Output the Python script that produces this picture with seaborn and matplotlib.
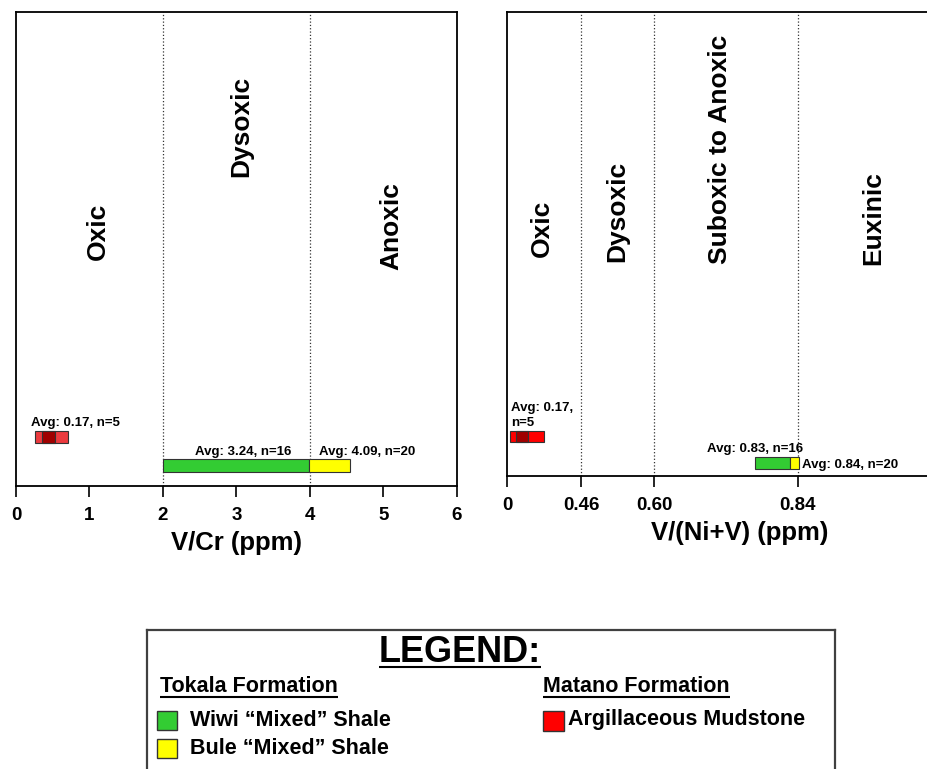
import numpy as np
import pandas as pd
import seaborn as sns
import matplotlib.pyplot as plt
from matplotlib.patches import Rectangle

# values
groups = ['Argillaceous Mudstone', 'Wiwi “Mixed” Shale', 'Bule “Mixed” Shale']
colors_vcr = ['#ec3a3e', '#33cc33', '#ffff00']
colors_vniv = ['#ff0000', '#33cc33', '#ffff00']

vcr_start = [0.26, 2.00, 3.98]
vcr_end = [0.71, 3.98, 4.55]
vcr_core = [0.35, 0.53]
vcr_text = ['Avg: 0.17, n=5', 'Avg: 3.24, n=16', 'Avg: 4.09, n=20']
vcr_bounds = [2, 4]
vcr_zones = ['Oxic', 'Dysoxic', 'Anoxic']
vcr_ticks = [0, 1, 2, 3, 4, 5, 6]

vniv_start = [0.02, 0.768, 0.826]
vniv_end = [0.23, 0.826, 0.841]
vniv_core = [0.056, 0.13]
vniv_text = ['Avg: 0.17,\nn=5', 'Avg: 0.83, n=16', 'Avg: 0.84, n=20']
vniv_bounds = [0.46, 0.60, 0.84]
vniv_zones = ['Oxic', 'Dysoxic', 'Suboxic to Anoxic', 'Euxinic']
vniv_ticks = [0, 0.46, 0.60, 0.84]
vniv_ticklabels = ['0', '0.46', '0.60', '0.84']

# the V/(Ni+V) axis is not linear in the source figure
knots_v = [0, 0.46, 0.60, 0.84, 1.0]
knots_px = [0, 74, 147, 291, 466]

df_vcr = pd.DataFrame({'group': groups, 'start': vcr_start, 'end': vcr_end,
                       'color': colors_vcr, 'label': vcr_text})
df_vniv = pd.DataFrame({'group': groups, 'start': vniv_start, 'end': vniv_end,
                        'color': colors_vniv, 'label': vniv_text})

sns.set_theme(style='white')
plt.rcParams['font.family'] = ['Liberation Sans', 'DejaVu Sans']
plt.rcParams['font.weight'] = 'bold'
plt.rcParams['axes.linewidth'] = 1.3
plt.rcParams['axes.edgecolor'] = 'black'
plt.rcParams['text.color'] = 'black'
plt.rcParams['axes.labelcolor'] = 'black'
plt.rcParams['xtick.color'] = 'black'
plt.rcParams['xtick.labelcolor'] = 'black'

W, H = 928, 769
fig = plt.figure(figsize=(W / 100, H / 100), dpi=100)


def px_axes(x0, y0, x1, y1):
    return fig.add_axes([x0 / W, 1 - y1 / H, (x1 - x0) / W, (y1 - y0) / H])


ax1 = px_axes(16, 12, 457, 486)
ax2 = px_axes(507, 12, 973, 476)
ax2.set_xscale('function', functions=(lambda x: np.interp(x, knots_v, knots_px),
                                      lambda p: np.interp(p, knots_px, knots_v)))

# bar rows (percent of panel height)
rows1 = [10.4, 4.32, 4.32]
rows2 = [8.5, 2.76, 2.76]
bh = 2.55


def draw_panel(ax, d, rows, core, core_col):
    for i, r in d.iterrows():
        ax.barh(rows[i], r['end'] - r['start'], left=r['start'], height=bh,
                color=r['color'], edgecolor='#333333', linewidth=0.8, zorder=3)
    ax.barh(rows[0], core[1] - core[0], left=core[0], height=bh,
            color=core_col, edgecolor='#333333', linewidth=0.8, zorder=4)


draw_panel(ax1, df_vcr, rows1, vcr_core, '#a00000')
draw_panel(ax2, df_vniv, rows2, vniv_core, '#a00000')

for ax, bounds in [(ax1, vcr_bounds), (ax2, vniv_bounds)]:
    for b in bounds:
        ax.axvline(b, color='#333333', ls=':', lw=0.9, zorder=2)
    ax.set_ylim(0, 100)
    ax.set_yticks([])
    ax.tick_params(axis='x', direction='out', length=8, width=1.2, color='black',
                   bottom=True, labelsize=13.5, pad=7)

ax1.set_xlim(0, 6)
ax1.set_xticks(vcr_ticks)
ax1.set_xticklabels([str(t) for t in vcr_ticks], fontweight='bold')
ax2.set_xlim(0, 1.0)
ax2.set_xticks(vniv_ticks)
ax2.set_xticklabels(vniv_ticklabels, fontweight='bold')
ax2.spines['right'].set_visible(False)

ax1.set_xlabel('V/Cr (ppm)', fontsize=18.5, fontweight='bold', labelpad=5)
ax2.set_xlabel('V/(Ni+V) (ppm)', fontsize=18.5, fontweight='bold', labelpad=5)

# zone names
zone_pos1 = [(1.116, 53.7), (3.07, 75.9), (5.10, 54.9)]
zone_pos2 = [(0.2176, 53.4), (0.529, 57.1), (0.71, 70.5), (0.9086, 55.6)]
for ax, names, pos in [(ax1, vcr_zones, zone_pos1), (ax2, vniv_zones, zone_pos2)]:
    for name, (x, y) in zip(names, pos):
        ax.text(x, y, name, rotation=90, ha='center', va='center',
                fontsize=19, fontweight='bold')

# average annotations
txt1 = [(0.21, 12.6), (2.435, 6.5), (4.127, 6.5)]
txt2 = [(0.023, 10.8), (0.689, 5.24), (0.8434, 1.66)]
for ax, d, pos in [(ax1, df_vcr, txt1), (ax2, df_vniv, txt2)]:
    for lab, (x, y) in zip(d['label'], pos):
        ax.text(x, y, lab, ha='left', va='baseline', fontsize=9.5, fontweight='bold',
                linespacing=1.3, zorder=5)

# legend box
axl = px_axes(147, 630, 835, 769)
axl.set_xlim(147, 835)
axl.set_ylim(769, 630)
axl.set_xticks([])
axl.set_yticks([])
for s in ['left', 'right', 'top']:
    axl.spines[s].set_color('#404040')
    axl.spines[s].set_linewidth(1.6)
axl.spines['bottom'].set_visible(False)

heads = [
    (460, 652, 'LEGEND:', 26, 'center', 667),
    (160, 687, 'Tokala Formation', 15.5, 'left', 697),
    (543, 687, 'Matano Formation', 15.5, 'left', 697),
]
head_texts = []
for x, y, s, fs, ha, uy in heads:
    t = axl.text(x, y, s, ha=ha, va='center', fontsize=fs, fontweight='bold')
    head_texts.append((t, uy))

entries = [
    (157, 711, 177, 730, colors_vniv[1], 190, 720, groups[1]),
    (157, 739, 177, 758, colors_vniv[2], 190, 748, groups[2]),
    (543, 711, 564, 731, colors_vniv[0], 568, 720, groups[0]),
]
for x0, y0, x1, y1, c, tx, ty, s in entries:
    axl.add_patch(Rectangle((x0, y0), x1 - x0, y1 - y0, facecolor=c,
                            edgecolor='#333333', linewidth=1.0))
    axl.text(tx, ty, s, ha='left', va='center', fontsize=15.5, fontweight='bold')

fig.canvas.draw()
rend = fig.canvas.get_renderer()
inv = axl.transData.inverted()
for t, uy in head_texts:
    bb = t.get_window_extent(rend)
    xa = inv.transform((bb.x0, bb.y0))[0]
    xb = inv.transform((bb.x1, bb.y0))[0]
    axl.plot([xa, xb], [uy, uy], color='black', lw=1.5, solid_capstyle='butt')

fig.savefig('out.png', dpi=100)
